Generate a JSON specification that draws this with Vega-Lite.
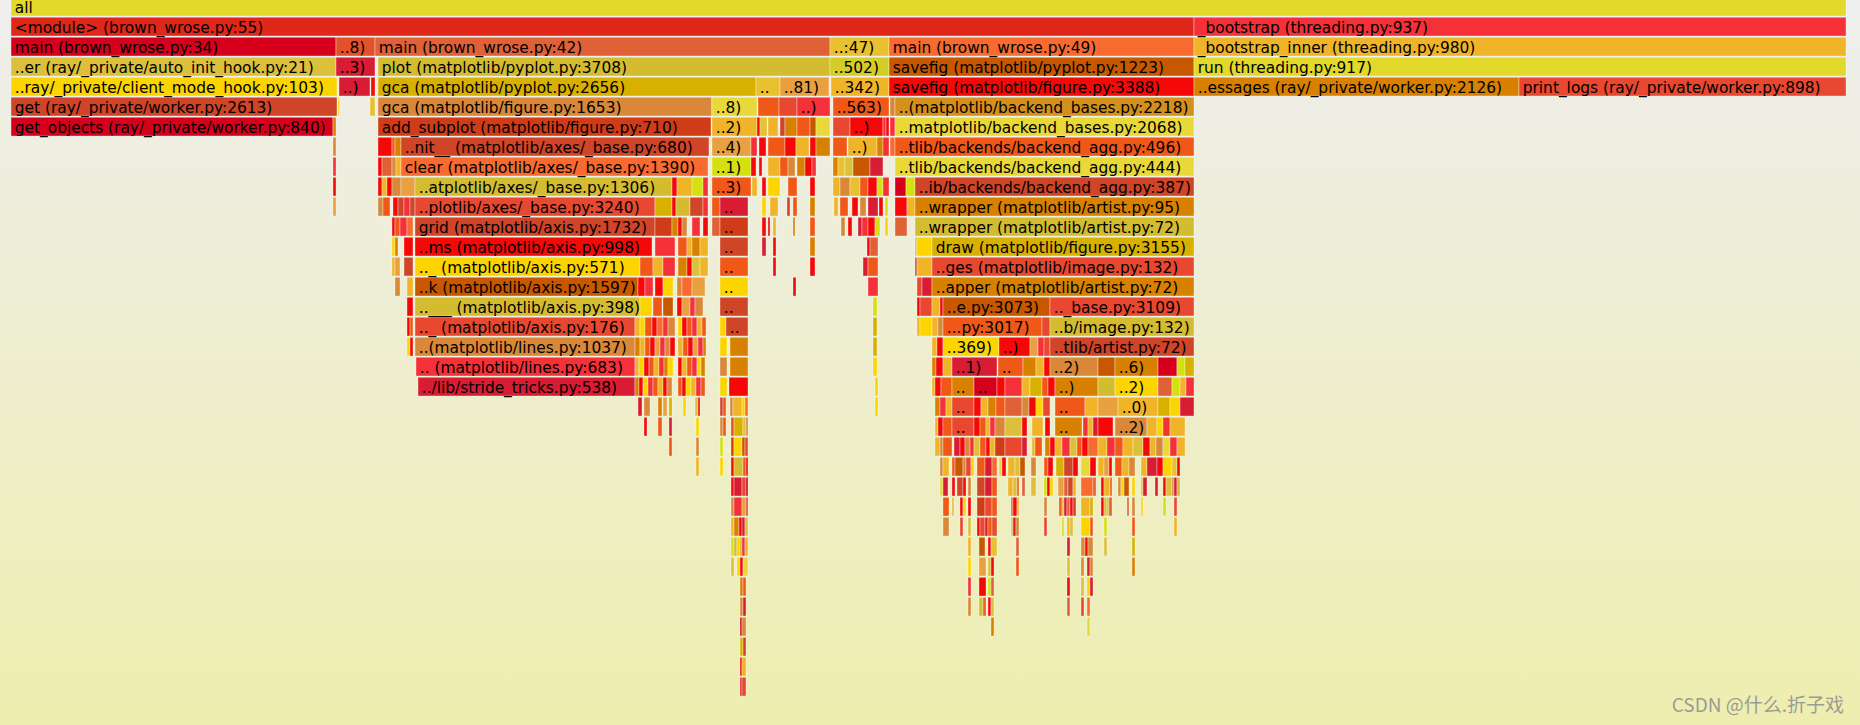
{
"$schema":"https://vega.github.io/schema/vega-lite/v6.json",
"width":1860,"height":725,"padding":0,
"autosize":{"type":"none"},
"background":"#eeeed2",
"view":{"stroke":null,"fill":{"gradient":"linear","x1":0,"y1":0,"x2":0,"y2":1,"stops":[{"offset":0,"color":"#eeeeee"},{"offset":1,"color":"#eeeeb0"}]}},
"data":{"values":[
{"d":0,"s":0,"e":1835,"c":0,"n":"all"},
{"d":1,"s":0,"e":1183,"c":1,"n":"<module> (brown_wrose.py:55)"},
{"d":1,"s":1183,"e":1835,"c":7,"n":"_bootstrap (threading.py:937)"},
{"d":2,"s":0,"e":325,"c":2,"n":"main (brown_wrose.py:34)"},
{"d":2,"s":325,"e":364,"c":3,"n":"..8)"},
{"d":2,"s":364,"e":819,"c":4,"n":"main (brown_wrose.py:42)"},
{"d":2,"s":819,"e":878,"c":5,"n":"..:47)"},
{"d":2,"s":878,"e":1183,"c":6,"n":"main (brown_wrose.py:49)"},
{"d":2,"s":1183,"e":1835,"c":8,"n":"_bootstrap_inner (threading.py:980)"},
{"d":3,"s":0,"e":325,"c":9,"n":"..er (ray/_private/auto_init_hook.py:21)"},
{"d":3,"s":325,"e":364,"c":22,"n":"..3)"},
{"d":3,"s":367,"e":819,"c":23,"n":"plot (matplotlib/pyplot.py:3708)"},
{"d":3,"s":819,"e":878,"c":26,"n":"..502)"},
{"d":3,"s":878,"e":1183,"c":10,"n":"savefig (matplotlib/pyplot.py:1223)"},
{"d":3,"s":1183,"e":1835,"c":0,"n":"run (threading.py:917)"},
{"d":4,"s":0,"e":326,"c":11,"n":"..ray/_private/client_mode_hook.py:103)"},
{"d":4,"s":328,"e":359,"c":22,"n":"..)"},
{"d":4,"s":360,"e":364,"c":13},
{"d":4,"s":367,"e":745,"c":12,"n":"gca (matplotlib/pyplot.py:2656)"},
{"d":4,"s":745,"e":769,"c":5,"n":".."},
{"d":4,"s":769,"e":818,"c":20,"n":"..81)"},
{"d":4,"s":820,"e":878,"c":8,"n":"..342)"},
{"d":4,"s":878,"e":1183,"c":13,"n":"savefig (matplotlib/figure.py:3388)"},
{"d":4,"s":1183,"e":1508,"c":14,"n":"..essages (ray/_private/worker.py:2126)"},
{"d":4,"s":1508,"e":1835,"c":24,"n":"print_logs (ray/_private/worker.py:898)"},
{"d":5,"s":0,"e":326,"c":15,"n":"get (ray/_private/worker.py:2613)"},
{"d":5,"s":327,"e":328.5,"c":11},
{"d":5,"s":359,"e":364,"c":5},
{"d":5,"s":367,"e":700.7,"c":16,"n":"gca (matplotlib/figure.py:1653)"},
{"d":5,"s":701,"e":746,"c":17,"n":"..8)"},
{"d":5,"s":747,"e":768,"c":19},
{"d":5,"s":768,"e":786,"c":24},
{"d":5,"s":786,"e":819,"c":7,"n":"..)"},
{"d":5,"s":822,"e":878,"c":19,"n":"..563)"},
{"d":5,"s":879,"e":884,"c":16},
{"d":5,"s":884,"e":1183,"c":27,"n":"..(matplotlib/backend_bases.py:2218)"},
{"d":6,"s":0,"e":322,"c":2,"n":"get_objects (ray/_private/worker.py:840)"},
{"d":6,"s":322,"e":325,"c":14},
{"d":6,"s":367,"e":700,"c":21,"n":"add_subplot (matplotlib/figure.py:710)"},
{"d":6,"s":701,"e":746,"c":8,"n":"..2)"},
{"d":6,"s":746,"e":749,"c":13},
{"d":6,"s":749,"e":756,"c":5},
{"d":6,"s":757,"e":767,"c":8},
{"d":6,"s":769,"e":774,"c":15},
{"d":6,"s":774,"e":786,"c":14},
{"d":6,"s":786,"e":799,"c":19},
{"d":6,"s":799,"e":805,"c":10},
{"d":6,"s":805,"e":819,"c":17},
{"d":6,"s":822,"e":839,"c":24},
{"d":6,"s":839,"e":872,"c":13,"n":"..)"},
{"d":6,"s":872,"e":875,"c":7},
{"d":6,"s":875,"e":878,"c":13},
{"d":6,"s":879,"e":884,"c":7},
{"d":6,"s":884,"e":1183,"c":17,"n":"..matplotlib/backend_bases.py:2068)"},
{"d":7,"s":322,"e":325,"c":16},
{"d":7,"s":367,"e":381,"c":13},
{"d":7,"s":381,"e":384,"c":19},
{"d":7,"s":384,"e":390,"c":14},
{"d":7,"s":390,"e":698,"c":15,"n":"..nit__ (matplotlib/axes/_base.py:680)"},
{"d":7,"s":701,"e":740,"c":20,"n":"..4)"},
{"d":7,"s":740,"e":746,"c":7},
{"d":7,"s":748,"e":755,"c":13},
{"d":7,"s":757,"e":774,"c":19},
{"d":7,"s":774,"e":785,"c":13},
{"d":7,"s":785,"e":798,"c":8},
{"d":7,"s":799,"e":805,"c":13},
{"d":7,"s":805,"e":819,"c":14},
{"d":7,"s":822,"e":836,"c":19},
{"d":7,"s":837,"e":866,"c":8,"n":"..)"},
{"d":7,"s":866,"e":872,"c":14},
{"d":7,"s":872,"e":878,"c":7},
{"d":7,"s":879,"e":884,"c":6},
{"d":7,"s":884,"e":1183,"c":19,"n":"..tlib/backends/backend_agg.py:496)"},
{"d":8,"s":322,"e":325,"c":7},
{"d":8,"s":367,"e":371,"c":13},
{"d":8,"s":371,"e":381,"c":4},
{"d":8,"s":381,"e":385,"c":16},
{"d":8,"s":385,"e":390,"c":8},
{"d":8,"s":390,"e":697,"c":6,"n":"clear (matplotlib/axes/_base.py:1390)"},
{"d":8,"s":701,"e":740,"c":18,"n":"..1)"},
{"d":8,"s":740,"e":745,"c":13},
{"d":8,"s":748,"e":751,"c":13},
{"d":8,"s":757,"e":769,"c":8},
{"d":8,"s":769,"e":777,"c":19},
{"d":8,"s":777,"e":784,"c":16},
{"d":8,"s":786,"e":794,"c":14},
{"d":8,"s":794,"e":801,"c":13},
{"d":8,"s":801,"e":805,"c":7},
{"d":8,"s":822,"e":827,"c":14},
{"d":8,"s":827,"e":834,"c":5},
{"d":8,"s":834,"e":842,"c":9},
{"d":8,"s":842,"e":859,"c":10},
{"d":8,"s":859,"e":872,"c":22},
{"d":8,"s":884,"e":1183,"c":17,"n":"..tlib/backends/backend_agg.py:444)"},
{"d":9,"s":322,"e":325,"c":13},
{"d":9,"s":367,"e":371,"c":13},
{"d":9,"s":371,"e":376,"c":8},
{"d":9,"s":376,"e":381,"c":13},
{"d":9,"s":381,"e":390,"c":16},
{"d":9,"s":390,"e":404,"c":20},
{"d":9,"s":404,"e":661,"c":23,"n":"..atplotlib/axes/_base.py:1306)"},
{"d":9,"s":661,"e":666,"c":13},
{"d":9,"s":666,"e":681,"c":8},
{"d":9,"s":681,"e":692,"c":18},
{"d":9,"s":692,"e":697,"c":7},
{"d":9,"s":701,"e":740,"c":19,"n":"..3)"},
{"d":9,"s":741,"e":746,"c":8},
{"d":9,"s":751,"e":755,"c":13},
{"d":9,"s":757,"e":769,"c":11},
{"d":9,"s":777,"e":786,"c":19},
{"d":9,"s":799,"e":804,"c":13},
{"d":9,"s":822,"e":829,"c":8},
{"d":9,"s":829,"e":839,"c":16},
{"d":9,"s":839,"e":849,"c":5},
{"d":9,"s":849,"e":857,"c":19},
{"d":9,"s":857,"e":866,"c":13},
{"d":9,"s":866,"e":872,"c":18},
{"d":9,"s":872,"e":878,"c":7},
{"d":9,"s":884,"e":895,"c":2},
{"d":9,"s":895,"e":904,"c":18},
{"d":9,"s":904,"e":1183,"c":15,"n":"..ib/backends/backend_agg.py:387)"},
{"d":10,"s":322,"e":325,"c":20},
{"d":10,"s":367,"e":372,"c":16},
{"d":10,"s":372,"e":379,"c":19},
{"d":10,"s":382,"e":387,"c":13},
{"d":10,"s":387,"e":393,"c":15},
{"d":10,"s":393,"e":399,"c":7},
{"d":10,"s":399,"e":404,"c":15},
{"d":10,"s":404,"e":644,"c":24,"n":"..plotlib/axes/_base.py:3240)"},
{"d":10,"s":644,"e":661,"c":12},
{"d":10,"s":661,"e":665,"c":13},
{"d":10,"s":665,"e":679,"c":23},
{"d":10,"s":679,"e":692,"c":15},
{"d":10,"s":692,"e":697,"c":7},
{"d":10,"s":701,"e":709,"c":19},
{"d":10,"s":709,"e":737,"c":22,"n":".."},
{"d":10,"s":751,"e":755,"c":11},
{"d":10,"s":759,"e":767,"c":8},
{"d":10,"s":776,"e":779,"c":15},
{"d":10,"s":782,"e":786,"c":19},
{"d":10,"s":799,"e":804,"c":14},
{"d":10,"s":823,"e":827,"c":8},
{"d":10,"s":829,"e":837,"c":19},
{"d":10,"s":841,"e":847,"c":13},
{"d":10,"s":849,"e":855,"c":16},
{"d":10,"s":857,"e":867,"c":22},
{"d":10,"s":868,"e":872,"c":13},
{"d":10,"s":874,"e":877,"c":18},
{"d":10,"s":884,"e":896,"c":13},
{"d":10,"s":896,"e":904,"c":8},
{"d":10,"s":904,"e":1183,"c":14,"n":"..wrapper (matplotlib/artist.py:95)"},
{"d":11,"s":381,"e":384,"c":13},
{"d":11,"s":384,"e":389,"c":19},
{"d":11,"s":389,"e":396,"c":7},
{"d":11,"s":396,"e":402,"c":6},
{"d":11,"s":404,"e":644,"c":15,"n":"grid (matplotlib/axis.py:1732)"},
{"d":11,"s":644,"e":661,"c":21},
{"d":11,"s":661,"e":667,"c":14},
{"d":11,"s":667,"e":671,"c":13},
{"d":11,"s":671,"e":676,"c":16},
{"d":11,"s":681,"e":689,"c":7},
{"d":11,"s":692,"e":697,"c":13},
{"d":11,"s":701,"e":709,"c":4},
{"d":11,"s":709,"e":737,"c":21,"n":".."},
{"d":11,"s":751,"e":755,"c":13},
{"d":11,"s":757,"e":759,"c":13},
{"d":11,"s":762,"e":765,"c":8},
{"d":11,"s":782,"e":784,"c":14},
{"d":11,"s":799,"e":804,"c":19},
{"d":11,"s":830,"e":834,"c":16},
{"d":11,"s":837,"e":841,"c":13},
{"d":11,"s":847,"e":851,"c":22},
{"d":11,"s":851,"e":857,"c":7},
{"d":11,"s":857,"e":864,"c":13},
{"d":11,"s":864,"e":869,"c":18},
{"d":11,"s":874,"e":877,"c":11},
{"d":11,"s":884,"e":896,"c":4},
{"d":11,"s":904,"e":1183,"c":23,"n":"..wrapper (matplotlib/artist.py:72)"},
{"d":12,"s":381,"e":384,"c":11},
{"d":12,"s":384,"e":387,"c":14},
{"d":12,"s":393,"e":402,"c":13},
{"d":12,"s":404,"e":641,"c":13,"n":"..ms (matplotlib/axis.py:998)"},
{"d":12,"s":644,"e":664,"c":7},
{"d":12,"s":667,"e":676,"c":19},
{"d":12,"s":676,"e":681,"c":8},
{"d":12,"s":681,"e":689,"c":14},
{"d":12,"s":689,"e":697,"c":8},
{"d":12,"s":709,"e":737,"c":15,"n":".."},
{"d":12,"s":751,"e":755,"c":22},
{"d":12,"s":762,"e":765,"c":13},
{"d":12,"s":799,"e":804,"c":14},
{"d":12,"s":856,"e":859,"c":13},
{"d":12,"s":859,"e":867,"c":4},
{"d":12,"s":904,"e":906,"c":9},
{"d":12,"s":906,"e":921,"c":11},
{"d":12,"s":921,"e":1183,"c":12,"n":"draw (matplotlib/figure.py:3155)"},
{"d":13,"s":381,"e":384,"c":8},
{"d":13,"s":384,"e":389,"c":20},
{"d":13,"s":393,"e":402,"c":15},
{"d":13,"s":404,"e":629,"c":11,"n":".._ (matplotlib/axis.py:571)"},
{"d":13,"s":629,"e":642,"c":19},
{"d":13,"s":642,"e":652,"c":8},
{"d":13,"s":652,"e":664,"c":7},
{"d":13,"s":667,"e":676,"c":14},
{"d":13,"s":676,"e":681,"c":13},
{"d":13,"s":681,"e":689,"c":9},
{"d":13,"s":689,"e":697,"c":8},
{"d":13,"s":709,"e":737,"c":19,"n":".."},
{"d":13,"s":762,"e":765,"c":13},
{"d":13,"s":799,"e":804,"c":13},
{"d":13,"s":852,"e":857,"c":22},
{"d":13,"s":857,"e":867,"c":19},
{"d":13,"s":904,"e":906,"c":15},
{"d":13,"s":906,"e":921,"c":8},
{"d":13,"s":921,"e":1183,"c":24,"n":"..ges (matplotlib/image.py:132)"},
{"d":14,"s":384,"e":389,"c":16},
{"d":14,"s":396,"e":402,"c":8},
{"d":14,"s":404,"e":627,"c":10,"n":"..k (matplotlib/axis.py:1597)"},
{"d":14,"s":627,"e":634,"c":13},
{"d":14,"s":634,"e":642,"c":7},
{"d":14,"s":644,"e":652,"c":13},
{"d":14,"s":652,"e":662,"c":11},
{"d":14,"s":666,"e":671,"c":16},
{"d":14,"s":671,"e":681,"c":6},
{"d":14,"s":681,"e":694,"c":20},
{"d":14,"s":709,"e":737,"c":11,"n":".."},
{"d":14,"s":782,"e":785,"c":13},
{"d":14,"s":857,"e":867,"c":7},
{"d":14,"s":906,"e":911,"c":24},
{"d":14,"s":911,"e":921,"c":22},
{"d":14,"s":921,"e":1183,"c":14,"n":"..apper (matplotlib/artist.py:72)"},
{"d":15,"s":396,"e":402,"c":13},
{"d":15,"s":404,"e":629,"c":23,"n":"..___ (matplotlib/axis.py:398)"},
{"d":15,"s":629,"e":641,"c":11},
{"d":15,"s":642,"e":651,"c":19},
{"d":15,"s":652,"e":662,"c":10},
{"d":15,"s":666,"e":671,"c":13},
{"d":15,"s":671,"e":679,"c":20},
{"d":15,"s":679,"e":684,"c":7},
{"d":15,"s":684,"e":692,"c":16},
{"d":15,"s":709,"e":737,"c":15,"n":".."},
{"d":15,"s":862,"e":866,"c":18},
{"d":15,"s":906,"e":909,"c":13},
{"d":15,"s":909,"e":921,"c":24},
{"d":15,"s":921,"e":929,"c":8},
{"d":15,"s":929,"e":932,"c":13},
{"d":15,"s":932,"e":1039,"c":10,"n":"..e.py:3073)"},
{"d":15,"s":1039,"e":1183,"c":24,"n":".._base.py:3109)"},
{"d":16,"s":396,"e":399,"c":13},
{"d":16,"s":399,"e":402,"c":19},
{"d":16,"s":404,"e":624,"c":24,"n":".._ (matplotlib/axis.py:176)"},
{"d":16,"s":624,"e":629,"c":8},
{"d":16,"s":629,"e":634,"c":11},
{"d":16,"s":634,"e":641,"c":19},
{"d":16,"s":641,"e":646,"c":13},
{"d":16,"s":646,"e":652,"c":6},
{"d":16,"s":652,"e":657,"c":7},
{"d":16,"s":657,"e":664,"c":16},
{"d":16,"s":667,"e":671,"c":11},
{"d":16,"s":671,"e":676,"c":13},
{"d":16,"s":676,"e":681,"c":19},
{"d":16,"s":681,"e":686,"c":7},
{"d":16,"s":686,"e":691,"c":8},
{"d":16,"s":691,"e":695,"c":19},
{"d":16,"s":709,"e":715,"c":11},
{"d":16,"s":715,"e":737,"c":15,"n":".."},
{"d":16,"s":862,"e":866,"c":12},
{"d":16,"s":906,"e":909,"c":8},
{"d":16,"s":909,"e":921,"c":11},
{"d":16,"s":921,"e":927,"c":8},
{"d":16,"s":927,"e":932,"c":16},
{"d":16,"s":932,"e":1031,"c":19,"n":"...py:3017)"},
{"d":16,"s":1031,"e":1039,"c":24},
{"d":16,"s":1039,"e":1183,"c":23,"n":"..b/image.py:132)"},
{"d":17,"s":396,"e":399,"c":11},
{"d":17,"s":399,"e":402,"c":13},
{"d":17,"s":404,"e":624,"c":16,"n":"..(matplotlib/lines.py:1037)"},
{"d":17,"s":624,"e":629,"c":14},
{"d":17,"s":629,"e":634,"c":8},
{"d":17,"s":634,"e":639,"c":19},
{"d":17,"s":639,"e":644,"c":13},
{"d":17,"s":644,"e":649,"c":20},
{"d":17,"s":649,"e":654,"c":7},
{"d":17,"s":654,"e":659,"c":16},
{"d":17,"s":659,"e":664,"c":13},
{"d":17,"s":667,"e":672,"c":8},
{"d":17,"s":672,"e":677,"c":19},
{"d":17,"s":677,"e":682,"c":13},
{"d":17,"s":682,"e":687,"c":20},
{"d":17,"s":687,"e":692,"c":7},
{"d":17,"s":692,"e":695,"c":14},
{"d":17,"s":709,"e":716,"c":11},
{"d":17,"s":719,"e":737,"c":14},
{"d":17,"s":862,"e":866,"c":12},
{"d":17,"s":921,"e":926,"c":8},
{"d":17,"s":926,"e":932,"c":13},
{"d":17,"s":932,"e":988,"c":11,"n":"..369)"},
{"d":17,"s":988,"e":1019,"c":13,"n":"..)"},
{"d":17,"s":1019,"e":1027,"c":20},
{"d":17,"s":1027,"e":1033,"c":7},
{"d":17,"s":1033,"e":1039,"c":24},
{"d":17,"s":1039,"e":1183,"c":15,"n":"..tlib/artist.py:72)"},
{"d":18,"s":405,"e":624,"c":7,"n":".. (matplotlib/lines.py:683)"},
{"d":18,"s":624,"e":628,"c":8},
{"d":18,"s":628,"e":633,"c":11},
{"d":18,"s":633,"e":638,"c":13},
{"d":18,"s":638,"e":643,"c":19},
{"d":18,"s":643,"e":648,"c":8},
{"d":18,"s":648,"e":653,"c":7},
{"d":18,"s":653,"e":657,"c":14},
{"d":18,"s":657,"e":662,"c":11},
{"d":18,"s":667,"e":671,"c":13},
{"d":18,"s":671,"e":676,"c":8},
{"d":18,"s":676,"e":681,"c":19},
{"d":18,"s":681,"e":686,"c":7},
{"d":18,"s":686,"e":690,"c":11},
{"d":18,"s":690,"e":694,"c":14},
{"d":18,"s":709,"e":716,"c":16},
{"d":18,"s":719,"e":737,"c":14},
{"d":18,"s":862,"e":866,"c":11},
{"d":18,"s":921,"e":925,"c":14},
{"d":18,"s":925,"e":932,"c":13},
{"d":18,"s":932,"e":941,"c":8},
{"d":18,"s":941,"e":986,"c":22,"n":"..1)"},
{"d":18,"s":987,"e":1012,"c":19,"n":".."},
{"d":18,"s":1012,"e":1025,"c":14},
{"d":18,"s":1025,"e":1033,"c":8},
{"d":18,"s":1033,"e":1039,"c":13},
{"d":18,"s":1039,"e":1087,"c":16,"n":"..2)"},
{"d":18,"s":1087,"e":1104,"c":10},
{"d":18,"s":1104,"e":1147,"c":14,"n":"..6)"},
{"d":18,"s":1147,"e":1166,"c":2},
{"d":18,"s":1166,"e":1174,"c":18},
{"d":18,"s":1174,"e":1183,"c":12},
{"d":19,"s":407,"e":624,"c":22,"n":"../lib/stride_tricks.py:538)"},
{"d":19,"s":624,"e":628,"c":14},
{"d":19,"s":628,"e":632,"c":13},
{"d":19,"s":632,"e":637,"c":11},
{"d":19,"s":637,"e":642,"c":7},
{"d":19,"s":642,"e":647,"c":19},
{"d":19,"s":647,"e":652,"c":8},
{"d":19,"s":652,"e":656,"c":13},
{"d":19,"s":656,"e":661,"c":16},
{"d":19,"s":667,"e":671,"c":19},
{"d":19,"s":671,"e":675,"c":13},
{"d":19,"s":675,"e":680,"c":11},
{"d":19,"s":680,"e":685,"c":8},
{"d":19,"s":685,"e":690,"c":7},
{"d":19,"s":690,"e":694,"c":19},
{"d":19,"s":709,"e":716,"c":11},
{"d":19,"s":718,"e":737,"c":13},
{"d":19,"s":864,"e":867,"c":11},
{"d":19,"s":921,"e":924,"c":8},
{"d":19,"s":924,"e":930,"c":13},
{"d":19,"s":930,"e":941,"c":19},
{"d":19,"s":941,"e":963,"c":14,"n":".."},
{"d":19,"s":963,"e":986,"c":2,"n":".."},
{"d":19,"s":986,"e":994,"c":13},
{"d":19,"s":994,"e":1011,"c":7},
{"d":19,"s":1011,"e":1019,"c":8},
{"d":19,"s":1019,"e":1031,"c":12},
{"d":19,"s":1031,"e":1037,"c":19},
{"d":19,"s":1037,"e":1044,"c":13},
{"d":19,"s":1044,"e":1087,"c":14,"n":"..)"},
{"d":19,"s":1087,"e":1104,"c":23},
{"d":19,"s":1104,"e":1147,"c":11,"n":"..2)"},
{"d":19,"s":1147,"e":1161,"c":4},
{"d":19,"s":1161,"e":1169,"c":18},
{"d":19,"s":1169,"e":1175,"c":8},
{"d":19,"s":1175,"e":1183,"c":7},
{"d":20,"s":627,"e":631,"c":22},
{"d":20,"s":633,"e":639,"c":16},
{"d":20,"s":647,"e":651,"c":14},
{"d":20,"s":652,"e":656,"c":20},
{"d":20,"s":658,"e":661,"c":12},
{"d":20,"s":672,"e":675,"c":11},
{"d":20,"s":684,"e":687,"c":9},
{"d":20,"s":687,"e":689,"c":13},
{"d":20,"s":709,"e":712,"c":15},
{"d":20,"s":712,"e":715,"c":19},
{"d":20,"s":719,"e":722,"c":16},
{"d":20,"s":722,"e":731,"c":8},
{"d":20,"s":731,"e":734,"c":11},
{"d":20,"s":734,"e":737,"c":6},
{"d":20,"s":864,"e":867,"c":11},
{"d":20,"s":924,"e":929,"c":14},
{"d":20,"s":929,"e":935,"c":7},
{"d":20,"s":935,"e":941,"c":8},
{"d":20,"s":941,"e":963,"c":24,"n":".."},
{"d":20,"s":963,"e":970,"c":13},
{"d":20,"s":970,"e":977,"c":8},
{"d":20,"s":977,"e":985,"c":14},
{"d":20,"s":985,"e":994,"c":19},
{"d":20,"s":994,"e":1011,"c":4},
{"d":20,"s":1011,"e":1018,"c":16},
{"d":20,"s":1018,"e":1025,"c":13},
{"d":20,"s":1025,"e":1032,"c":11},
{"d":20,"s":1032,"e":1039,"c":24},
{"d":20,"s":1044,"e":1074,"c":19,"n":".."},
{"d":20,"s":1074,"e":1087,"c":8},
{"d":20,"s":1087,"e":1107,"c":20},
{"d":20,"s":1107,"e":1147,"c":8,"n":"..0)"},
{"d":20,"s":1147,"e":1159,"c":12},
{"d":20,"s":1159,"e":1169,"c":11},
{"d":20,"s":1169,"e":1183,"c":22},
{"d":21,"s":633,"e":636,"c":13},
{"d":21,"s":647,"e":651,"c":19},
{"d":21,"s":658,"e":661,"c":22},
{"d":21,"s":685,"e":688,"c":11},
{"d":21,"s":709,"e":712,"c":16},
{"d":21,"s":712,"e":715,"c":19},
{"d":21,"s":720,"e":723,"c":24},
{"d":21,"s":723,"e":732,"c":12},
{"d":21,"s":732,"e":735,"c":9},
{"d":21,"s":735,"e":737,"c":16},
{"d":21,"s":924,"e":927,"c":8},
{"d":21,"s":927,"e":932,"c":13},
{"d":21,"s":932,"e":941,"c":19},
{"d":21,"s":941,"e":963,"c":24,"n":".."},
{"d":21,"s":963,"e":969,"c":13},
{"d":21,"s":969,"e":975,"c":19},
{"d":21,"s":975,"e":979,"c":8},
{"d":21,"s":979,"e":984,"c":7},
{"d":21,"s":984,"e":994,"c":16},
{"d":21,"s":994,"e":1011,"c":9},
{"d":21,"s":1011,"e":1016,"c":13},
{"d":21,"s":1021,"e":1032,"c":8},
{"d":21,"s":1034,"e":1039,"c":13},
{"d":21,"s":1044,"e":1071,"c":14,"n":".."},
{"d":21,"s":1072,"e":1077,"c":7},
{"d":21,"s":1077,"e":1082,"c":8},
{"d":21,"s":1082,"e":1087,"c":22},
{"d":21,"s":1087,"e":1102,"c":13},
{"d":21,"s":1104,"e":1136,"c":16,"n":"..2)"},
{"d":21,"s":1136,"e":1146,"c":8},
{"d":21,"s":1146,"e":1152,"c":11},
{"d":21,"s":1152,"e":1159,"c":7},
{"d":21,"s":1159,"e":1174,"c":8},
{"d":22,"s":658,"e":661,"c":19},
{"d":22,"s":685,"e":688,"c":16},
{"d":22,"s":709,"e":712,"c":18},
{"d":22,"s":720,"e":723,"c":21},
{"d":22,"s":723,"e":731,"c":11},
{"d":22,"s":731,"e":734,"c":10},
{"d":22,"s":734,"e":737,"c":24},
{"d":22,"s":924,"e":929,"c":8},
{"d":22,"s":929,"e":932,"c":16},
{"d":22,"s":932,"e":941,"c":19},
{"d":22,"s":943,"e":949,"c":22},
{"d":22,"s":949,"e":954,"c":13},
{"d":22,"s":954,"e":959,"c":16},
{"d":22,"s":959,"e":963,"c":7},
{"d":22,"s":963,"e":969,"c":9},
{"d":22,"s":969,"e":975,"c":19},
{"d":22,"s":975,"e":979,"c":13},
{"d":22,"s":979,"e":984,"c":8},
{"d":22,"s":984,"e":994,"c":21},
{"d":22,"s":994,"e":1011,"c":24},
{"d":22,"s":1011,"e":1016,"c":22},
{"d":22,"s":1021,"e":1024,"c":8},
{"d":22,"s":1024,"e":1031,"c":19},
{"d":22,"s":1034,"e":1039,"c":14},
{"d":22,"s":1039,"e":1044,"c":13},
{"d":22,"s":1044,"e":1051,"c":8},
{"d":22,"s":1051,"e":1059,"c":7},
{"d":22,"s":1059,"e":1066,"c":9},
{"d":22,"s":1066,"e":1071,"c":19},
{"d":22,"s":1071,"e":1077,"c":13},
{"d":22,"s":1077,"e":1087,"c":6},
{"d":22,"s":1087,"e":1096,"c":8},
{"d":22,"s":1096,"e":1104,"c":7},
{"d":22,"s":1104,"e":1112,"c":19},
{"d":22,"s":1112,"e":1122,"c":8},
{"d":22,"s":1122,"e":1132,"c":9},
{"d":22,"s":1132,"e":1139,"c":13},
{"d":22,"s":1139,"e":1145,"c":8},
{"d":22,"s":1145,"e":1152,"c":16},
{"d":22,"s":1152,"e":1159,"c":17},
{"d":22,"s":1159,"e":1166,"c":7},
{"d":22,"s":1166,"e":1174,"c":8},
{"d":23,"s":685,"e":688,"c":8},
{"d":23,"s":709,"e":712,"c":11},
{"d":23,"s":720,"e":723,"c":13},
{"d":23,"s":723,"e":732,"c":23},
{"d":23,"s":732,"e":735,"c":19},
{"d":23,"s":735,"e":737,"c":13},
{"d":23,"s":929,"e":932,"c":16},
{"d":23,"s":932,"e":938,"c":8},
{"d":23,"s":941,"e":944,"c":19},
{"d":23,"s":944,"e":952,"c":10},
{"d":23,"s":952,"e":955,"c":16},
{"d":23,"s":955,"e":960,"c":24},
{"d":23,"s":960,"e":963,"c":11},
{"d":23,"s":966,"e":974,"c":19},
{"d":23,"s":974,"e":981,"c":22},
{"d":23,"s":981,"e":986,"c":6},
{"d":23,"s":988,"e":991,"c":17},
{"d":23,"s":991,"e":995,"c":13},
{"d":23,"s":997,"e":1004,"c":8},
{"d":23,"s":1004,"e":1009,"c":9},
{"d":23,"s":1009,"e":1014,"c":10},
{"d":23,"s":1020,"e":1025,"c":16},
{"d":23,"s":1033,"e":1037,"c":19},
{"d":23,"s":1037,"e":1042,"c":13},
{"d":23,"s":1045,"e":1053,"c":12},
{"d":23,"s":1053,"e":1062,"c":15},
{"d":23,"s":1062,"e":1067,"c":13},
{"d":23,"s":1070,"e":1079,"c":17},
{"d":23,"s":1079,"e":1085,"c":13},
{"d":23,"s":1087,"e":1093,"c":8},
{"d":23,"s":1093,"e":1098,"c":20},
{"d":23,"s":1098,"e":1101,"c":13},
{"d":23,"s":1104,"e":1111,"c":19},
{"d":23,"s":1111,"e":1118,"c":8},
{"d":23,"s":1118,"e":1124,"c":16},
{"d":23,"s":1130,"e":1136,"c":8},
{"d":23,"s":1136,"e":1146,"c":22},
{"d":23,"s":1146,"e":1152,"c":13},
{"d":23,"s":1152,"e":1161,"c":11},
{"d":23,"s":1161,"e":1166,"c":5},
{"d":23,"s":1166,"e":1169,"c":13},
{"d":24,"s":720,"e":723,"c":13},
{"d":24,"s":723,"e":731,"c":22},
{"d":24,"s":731,"e":735,"c":24},
{"d":24,"s":735,"e":737,"c":2},
{"d":24,"s":929,"e":932,"c":17},
{"d":24,"s":932,"e":937,"c":22},
{"d":24,"s":941,"e":944,"c":13},
{"d":24,"s":946,"e":952,"c":15},
{"d":24,"s":952,"e":955,"c":13},
{"d":24,"s":957,"e":960,"c":16},
{"d":24,"s":966,"e":974,"c":15},
{"d":24,"s":974,"e":981,"c":22},
{"d":24,"s":981,"e":986,"c":19},
{"d":24,"s":997,"e":1002,"c":8},
{"d":24,"s":1002,"e":1006,"c":9},
{"d":24,"s":1006,"e":1008,"c":19},
{"d":24,"s":1011,"e":1014,"c":4},
{"d":24,"s":1020,"e":1025,"c":9},
{"d":24,"s":1033,"e":1036,"c":18},
{"d":24,"s":1036,"e":1039,"c":13},
{"d":24,"s":1039,"e":1042,"c":11},
{"d":24,"s":1047,"e":1053,"c":20},
{"d":24,"s":1053,"e":1057,"c":4},
{"d":24,"s":1057,"e":1062,"c":15},
{"d":24,"s":1062,"e":1065,"c":8},
{"d":24,"s":1070,"e":1082,"c":6},
{"d":24,"s":1082,"e":1085,"c":4},
{"d":24,"s":1090,"e":1093,"c":13},
{"d":24,"s":1093,"e":1099,"c":8},
{"d":24,"s":1099,"e":1101,"c":19},
{"d":24,"s":1107,"e":1110,"c":16},
{"d":24,"s":1110,"e":1113,"c":11},
{"d":24,"s":1113,"e":1118,"c":10},
{"d":24,"s":1121,"e":1124,"c":11},
{"d":24,"s":1130,"e":1132,"c":9},
{"d":24,"s":1132,"e":1136,"c":22},
{"d":24,"s":1144,"e":1147,"c":22},
{"d":24,"s":1152,"e":1155,"c":13},
{"d":24,"s":1155,"e":1161,"c":9},
{"d":24,"s":1161,"e":1163,"c":16},
{"d":24,"s":1163,"e":1166,"c":22},
{"d":24,"s":1166,"e":1169,"c":23},
{"d":25,"s":720,"e":723,"c":16},
{"d":25,"s":723,"e":731,"c":7},
{"d":25,"s":731,"e":735,"c":20},
{"d":25,"s":735,"e":737,"c":24},
{"d":25,"s":932,"e":938,"c":19},
{"d":25,"s":941,"e":943,"c":9},
{"d":25,"s":949,"e":952,"c":13},
{"d":25,"s":952,"e":955,"c":11},
{"d":25,"s":957,"e":960,"c":13},
{"d":25,"s":966,"e":974,"c":21},
{"d":25,"s":974,"e":981,"c":24},
{"d":25,"s":981,"e":986,"c":19},
{"d":25,"s":1000,"e":1002,"c":4},
{"d":25,"s":1002,"e":1006,"c":13},
{"d":25,"s":1006,"e":1008,"c":8},
{"d":25,"s":1033,"e":1036,"c":16},
{"d":25,"s":1048,"e":1051,"c":19},
{"d":25,"s":1051,"e":1053,"c":8},
{"d":25,"s":1053,"e":1056,"c":22},
{"d":25,"s":1056,"e":1059,"c":4},
{"d":25,"s":1059,"e":1062,"c":13},
{"d":25,"s":1062,"e":1065,"c":15},
{"d":25,"s":1070,"e":1079,"c":8},
{"d":25,"s":1079,"e":1082,"c":12},
{"d":25,"s":1090,"e":1093,"c":13},
{"d":25,"s":1093,"e":1096,"c":9},
{"d":25,"s":1096,"e":1098,"c":23},
{"d":25,"s":1098,"e":1101,"c":4},
{"d":25,"s":1116,"e":1118,"c":4},
{"d":25,"s":1121,"e":1124,"c":16},
{"d":25,"s":1130,"e":1132,"c":11},
{"d":25,"s":1152,"e":1155,"c":18},
{"d":25,"s":1163,"e":1166,"c":24},
{"d":26,"s":720,"e":723,"c":8},
{"d":26,"s":723,"e":728,"c":14},
{"d":26,"s":728,"e":731,"c":13},
{"d":26,"s":731,"e":734,"c":22},
{"d":26,"s":734,"e":737,"c":9},
{"d":26,"s":932,"e":938,"c":16},
{"d":26,"s":949,"e":952,"c":24},
{"d":26,"s":957,"e":960,"c":9},
{"d":26,"s":966,"e":969,"c":13},
{"d":26,"s":969,"e":974,"c":24},
{"d":26,"s":974,"e":977,"c":22},
{"d":26,"s":977,"e":981,"c":19},
{"d":26,"s":981,"e":986,"c":3},
{"d":26,"s":1000,"e":1002,"c":9},
{"d":26,"s":1002,"e":1005,"c":22},
{"d":26,"s":1005,"e":1008,"c":16},
{"d":26,"s":1033,"e":1036,"c":24},
{"d":26,"s":1051,"e":1053,"c":18},
{"d":26,"s":1056,"e":1059,"c":8},
{"d":26,"s":1059,"e":1062,"c":9},
{"d":26,"s":1070,"e":1079,"c":11},
{"d":26,"s":1079,"e":1082,"c":19},
{"d":26,"s":1093,"e":1096,"c":18},
{"d":26,"s":1121,"e":1124,"c":19},
{"d":26,"s":1163,"e":1166,"c":8},
{"d":27,"s":720,"e":723,"c":18},
{"d":27,"s":723,"e":726,"c":23},
{"d":27,"s":726,"e":729,"c":11},
{"d":27,"s":729,"e":731,"c":12},
{"d":27,"s":731,"e":734,"c":7},
{"d":27,"s":734,"e":737,"c":8},
{"d":27,"s":957,"e":960,"c":8},
{"d":27,"s":968,"e":974,"c":10},
{"d":27,"s":977,"e":980,"c":13},
{"d":27,"s":980,"e":986,"c":5},
{"d":27,"s":1005,"e":1008,"c":4},
{"d":27,"s":1056,"e":1059,"c":22},
{"d":27,"s":1070,"e":1074,"c":16},
{"d":27,"s":1074,"e":1077,"c":13},
{"d":27,"s":1077,"e":1082,"c":16},
{"d":27,"s":1093,"e":1096,"c":9},
{"d":27,"s":1121,"e":1124,"c":12},
{"d":28,"s":720,"e":723,"c":9},
{"d":28,"s":726,"e":729,"c":11},
{"d":28,"s":729,"e":732,"c":13},
{"d":28,"s":732,"e":737,"c":17},
{"d":28,"s":957,"e":960,"c":11},
{"d":28,"s":968,"e":975,"c":20},
{"d":28,"s":977,"e":980,"c":9},
{"d":28,"s":980,"e":983,"c":13},
{"d":28,"s":1005,"e":1008,"c":19},
{"d":28,"s":1056,"e":1059,"c":9},
{"d":28,"s":1070,"e":1073,"c":16},
{"d":28,"s":1076,"e":1079,"c":22},
{"d":28,"s":1079,"e":1082,"c":16},
{"d":28,"s":1121,"e":1124,"c":14},
{"d":29,"s":729,"e":732,"c":14},
{"d":29,"s":732,"e":735,"c":19},
{"d":29,"s":957,"e":960,"c":7},
{"d":29,"s":968,"e":975,"c":13},
{"d":29,"s":977,"e":980,"c":18},
{"d":29,"s":980,"e":983,"c":4},
{"d":29,"s":1056,"e":1059,"c":13},
{"d":29,"s":1070,"e":1073,"c":9},
{"d":29,"s":1076,"e":1079,"c":11},
{"d":29,"s":1079,"e":1082,"c":22},
{"d":30,"s":729,"e":732,"c":16},
{"d":30,"s":732,"e":735,"c":22},
{"d":30,"s":957,"e":960,"c":16},
{"d":30,"s":968,"e":972,"c":23},
{"d":30,"s":972,"e":975,"c":4},
{"d":30,"s":977,"e":980,"c":13},
{"d":30,"s":980,"e":983,"c":9},
{"d":30,"s":1056,"e":1059,"c":4},
{"d":30,"s":1070,"e":1073,"c":24},
{"d":30,"s":1076,"e":1079,"c":6},
{"d":31,"s":729,"e":731,"c":2},
{"d":31,"s":731,"e":735,"c":16},
{"d":31,"s":980,"e":983,"c":14},
{"d":31,"s":1076,"e":1079,"c":17},
{"d":32,"s":729,"e":732,"c":12},
{"d":32,"s":732,"e":735,"c":15},
{"d":33,"s":729,"e":731,"c":13},
{"d":33,"s":731,"e":735,"c":8},
{"d":34,"s":729,"e":731,"c":22},
{"d":34,"s":731,"e":735,"c":24}
]},
"encoding":{
"x":{"field":"s","type":"quantitative","axis":null,"scale":{"domain":[-11,1849],"nice":false,"zero":false,"padding":0}},
"y":{"field":"d","type":"quantitative","axis":null,"scale":{"domain":[-0.3325,35.9175],"reverse":true,"nice":false,"zero":false,"padding":0}}
},
"layer":[
{"mark":{"type":"bar","orient":"horizontal","height":18.7,"stroke":"#ffffff","strokeOpacity":0.45,"strokeWidth":0.8},
 "encoding":{"x2":{"field":"e"},
 "color":{"field":"c","type":"nominal","legend":null,"scale":{
 "domain":[0,1,2,3,4,5,6,7,8,9,10,11,12,13,14,15,16,17,18,19,20,21,22,23,24,25,26,27],
 "range":["#e2d92a","#e0281a","#d6001c","#e4502a","#e06038","#e8c030","#f86a30","#f43038","#f0b428","#dcc03c","#c85800","#fcd400","#d8b000","#f40808","#d88000","#d04428","#d88838","#e8d838","#d4e010","#f05818","#e8a040","#d03c18","#d81c34","#d4bc30","#e84830","#e06020","#d4cc28","#d4901c"]}}}},
{"transform":[{"filter":"isValid(datum.n)"}],
 "mark":{"type":"text","align":"left","baseline":"alphabetic","dx":3.75,"dy":5.9,"font":"DejaVu Sans","fontSize":15.4,"color":"#000000"},
 "encoding":{"text":{"field":"n"}}},
{"data":{"values":[{"s":1833,"d":34.97,"t":"CSDN @什么.折子戏"}]},
 "mark":{"type":"text","align":"right","baseline":"middle","font":"Noto Sans CJK SC","fontSize":19,"color":"#9c9c94"},
 "encoding":{"text":{"field":"t"}}}
]
}
